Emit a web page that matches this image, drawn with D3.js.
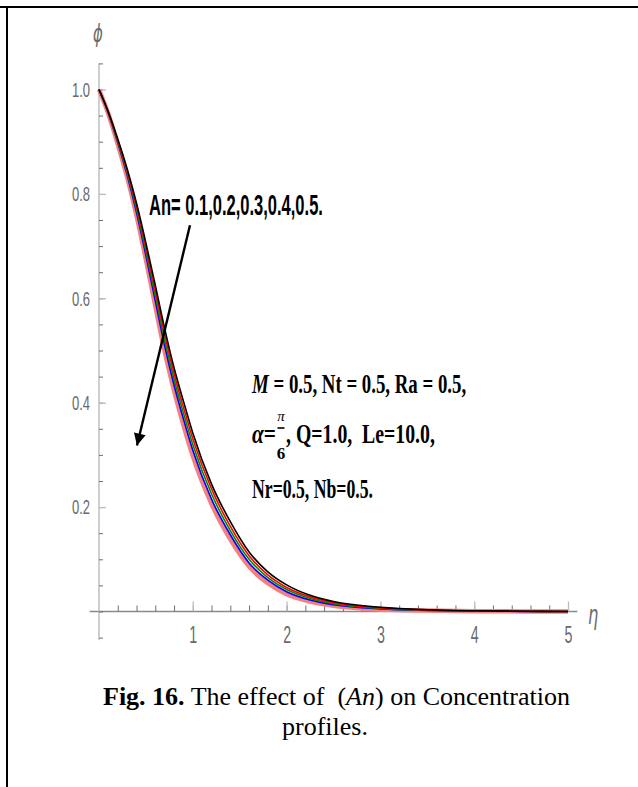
<!DOCTYPE html>
<html>
<head>
<meta charset="utf-8">
<script src="https://cdn.jsdelivr.net/npm/d3@7"></script>
<style>
  html, body { margin: 0; padding: 0; background: #fff; }
  svg { display: block; }
</style>
</head>
<body>
<svg id="chart" width="638" height="787"></svg>
<script>
// Concentration profiles phi(eta) for five values of An
const eta = [0, 0.1, 0.2, 0.3, 0.4, 0.5, 0.6, 0.7, 0.8, 0.9, 1.0, 1.2, 1.4, 1.6, 1.8, 2.0, 2.25, 2.5, 3.0, 3.5, 4.0, 4.5, 5.0];
const anValues = [0.1, 0.2, 0.3, 0.4, 0.5];
const phiAn01 = [1.0, 0.957, 0.905, 0.848, 0.782, 0.706, 0.625, 0.542, 0.467, 0.403, 0.342, 0.244, 0.172, 0.114, 0.076, 0.051, 0.031, 0.019, 0.008, 0.0033, 0.0014, 0.0006, 0];
const phiAn02 = [1.0, 0.956, 0.902, 0.844, 0.776, 0.698, 0.615, 0.531, 0.456, 0.391, 0.331, 0.235, 0.163, 0.107, 0.070, 0.046, 0.028, 0.017, 0.007, 0.0029, 0.0012, 0.0005, 0];
const phiAn03 = [1.0, 0.955, 0.900, 0.840, 0.770, 0.690, 0.605, 0.520, 0.445, 0.380, 0.320, 0.225, 0.155, 0.100, 0.065, 0.042, 0.025, 0.015, 0.006, 0.0025, 0.0010, 0.0004, 0];
const phiAn04 = [1.0, 0.954, 0.898, 0.836, 0.764, 0.682, 0.595, 0.509, 0.434, 0.369, 0.309, 0.215, 0.147, 0.093, 0.060, 0.038, 0.022, 0.013, 0.005, 0.0021, 0.0008, 0.0003, 0];
const phiAn05 = [1.0, 0.953, 0.895, 0.832, 0.758, 0.674, 0.585, 0.498, 0.423, 0.357, 0.298, 0.206, 0.138, 0.086, 0.054, 0.033, 0.019, 0.011, 0.004, 0.0017, 0.0006, 0.0002, 0];
const seriesColors = ["#000000", "#ff0000", "#008a00", "#0000ff", "#f58080"];
const xTicks = [1, 2, 3, 4, 5];
const yTicks = [0.2, 0.4, 0.6, 0.8, 1.0];

const svg = d3.select("#chart");
const W = 638, H = 787;

// places a text with its left end at (x, y), squeezed horizontally to the given width
function fitText(sel, x, y, width) {
  const w = sel.node().getBBox().width;
  sel.attr("x", 0).attr("y", 0)
    .attr("transform", `translate(${x},${y}) scale(${width / w},1)`);
  return sel;
}

// frame
svg.append("line").attr("x1", 0).attr("x2", W).attr("y1", 7).attr("y2", 7)
  .attr("stroke", "#000").attr("stroke-width", 2);
svg.append("line").attr("x1", 7).attr("x2", 7).attr("y1", 7).attr("y2", H)
  .attr("stroke", "#000").attr("stroke-width", 2);

const x = d3.scaleLinear().domain([0, 5]).range([99, 568]);
const y = d3.scaleLinear().domain([0, 1]).range([611.5, 89.5]);

const labelColor = "#6a6a6a";
const squeeze = 0.62;

// axis lines
svg.append("line").attr("x1", x(-0.1)).attr("x2", x(5.1)).attr("y1", y(0)).attr("y2", y(0))
  .attr("stroke", "#8a8a8a").attr("stroke-width", 1.3);
svg.append("line").attr("x1", x(0)).attr("x2", x(0)).attr("y1", y(1.05)).attr("y2", y(-0.055))
  .attr("stroke", "#b0b0b0").attr("stroke-width", 1.2);

// minor ticks
const gxm = svg.append("g").attr("transform", `translate(0,${y(0)})`)
  .call(d3.axisBottom(x).tickValues(d3.range(1, 26).map(i => i * 0.2)).tickSize(-6).tickFormat(""));
gxm.select(".domain").remove();
gxm.selectAll("line").attr("stroke", "#6f6f6f").attr("stroke-width", 1);

const gym = svg.append("g").attr("transform", `translate(${x(0)},0)`)
  .call(d3.axisLeft(y).tickValues(d3.range(-1, 22).map(i => i * 0.05)).tickSize(-4).tickFormat(""));
gym.select(".domain").remove();
gym.selectAll("line").attr("stroke", "#6f6f6f").attr("stroke-width", 1);

// major ticks with labels
const gx = svg.append("g").attr("transform", `translate(0,${y(0)})`)
  .call(d3.axisBottom(x).tickValues(xTicks).tickSize(-10).tickPadding(15).tickFormat(d3.format("d")));
gx.select(".domain").remove();
gx.selectAll("line").attr("stroke", "#bdbdbd").attr("stroke-width", 1.3);
gx.selectAll("text")
  .attr("fill", labelColor).attr("font-family", "Liberation Sans, Arial, sans-serif").attr("font-size", 23)
  .attr("transform", `scale(${squeeze},1)`);

const gy = svg.append("g").attr("transform", `translate(${x(0)},0)`)
  .call(d3.axisLeft(y).tickValues(yTicks).tickSize(-7).tickPadding(9).tickFormat(d3.format(".1f")));
gy.select(".domain").remove();
gy.selectAll("line").attr("stroke", "#bdbdbd").attr("stroke-width", 1.3);
gy.selectAll("text")
  .attr("fill", labelColor).attr("font-family", "Liberation Sans, Arial, sans-serif").attr("font-size", 21)
  .attr("x", -9 / squeeze)
  .attr("transform", `scale(${squeeze},1)`);

// axis names
svg.append("text").attr("x", 98 / squeeze).attr("y", 42).attr("transform", `scale(${squeeze},1)`)
  .attr("text-anchor", "middle").attr("font-family", "DejaVu Sans, sans-serif")
  .attr("font-style", "italic").attr("font-size", 24).attr("fill", labelColor).text("ϕ");
svg.append("text").attr("x", 593 / squeeze).attr("y", 624).attr("transform", `scale(${squeeze},1)`)
  .attr("text-anchor", "middle").attr("font-family", "DejaVu Sans, sans-serif")
  .attr("font-style", "italic").attr("font-size", 26).attr("fill", labelColor).text("η");

// curves
const series = [phiAn01, phiAn02, phiAn03, phiAn04, phiAn05];
const line = d3.line().x((d, i) => x(eta[i])).y(d => y(d)).curve(d3.curveMonotoneX);
const drawOrder = [4, 3, 2, 1, 0];
const widths = [1.6, 1.6, 1.6, 1.6, 4.5];
drawOrder.forEach(k => {
  svg.append("path").datum(series[k]).attr("d", line)
    .attr("fill", "none").attr("stroke", seriesColors[k]).attr("stroke-width", widths[k])
    .attr("stroke-linejoin", "round");
});

// arrow showing increasing An
const defs = svg.append("defs");
defs.append("marker").attr("id", "head").attr("viewBox", "0 0 10 10")
  .attr("refX", 10).attr("refY", 5).attr("markerUnits", "userSpaceOnUse")
  .attr("markerWidth", 22).attr("markerHeight", 12).attr("orient", "auto")
  .append("path").attr("d", "M0,0 L10,5 L0,10 Z").attr("fill", "#000");
svg.append("line")
  .attr("x1", x(0.97)).attr("y1", y(0.74)).attr("x2", x(0.405)).attr("y2", y(0.318))
  .attr("stroke", "#000").attr("stroke-width", 2.4).attr("marker-end", "url(#head)");

const anLabel = svg.append("text")
  .attr("font-family", "Liberation Sans, Arial, sans-serif").attr("font-weight", "bold")
  .attr("font-size", 30)
  .text("An= " + anValues.join(",") + ".");
fitText(anLabel, 149, 215, 174);

// parameter block
const serif = "Liberation Serif, Times New Roman, serif";
const t1 = svg.append("text")
  .attr("font-family", serif).attr("font-weight", "bold").attr("font-size", 27)
  .style("white-space", "pre");
t1.append("tspan").attr("font-style", "italic").text("M");
t1.append("tspan").text(" = 0.5, Nt = 0.5, Ra = 0.5,");
fitText(t1, 252, 393, 215);

const t2a = svg.append("text")
  .attr("font-family", serif).attr("font-weight", "bold").attr("font-size", 27);
t2a.append("tspan").attr("font-style", "italic").text("α");
t2a.append("tspan").text("=");
fitText(t2a, 252, 443, 24);
svg.append("text").attr("x", 281).attr("y", 421).attr("text-anchor", "middle")
  .attr("font-family", serif).attr("font-style", "italic").attr("font-size", 15).text("π");
svg.append("line").attr("x1", 277.5).attr("x2", 284.5).attr("y1", 428).attr("y2", 428)
  .attr("stroke", "#000").attr("stroke-width", 1.6);
svg.append("text").attr("x", 281).attr("y", 459).attr("text-anchor", "middle")
  .attr("font-family", serif).attr("font-weight", "bold").attr("font-size", 17).text("6");
const t2b = svg.append("text")
  .attr("font-family", serif).attr("font-weight", "bold").attr("font-size", 27)
  .style("white-space", "pre")
  .text(", Q=1.0,  Le=10.0,");
fitText(t2b, 286, 443, 149);

const t3 = svg.append("text")
  .attr("font-family", serif).attr("font-weight", "bold").attr("font-size", 27)
  .text("Nr=0.5, Nb=0.5.");
fitText(t3, 252, 498, 121);

// caption
const c1 = svg.append("text").attr("x", 103).attr("y", 705)
  .attr("font-family", serif).attr("font-size", 26)
  .style("white-space", "pre");
c1.append("tspan").attr("font-weight", "bold").text("Fig. 16.");
c1.append("tspan").text(" The effect of  (");
c1.append("tspan").attr("font-style", "italic").text("An");
c1.append("tspan").text(") on Concentration");
svg.append("text").attr("x", 325).attr("y", 735).attr("text-anchor", "middle")
  .attr("font-family", serif).attr("font-size", 26).text("profiles.");
</script>
</body>
</html>
